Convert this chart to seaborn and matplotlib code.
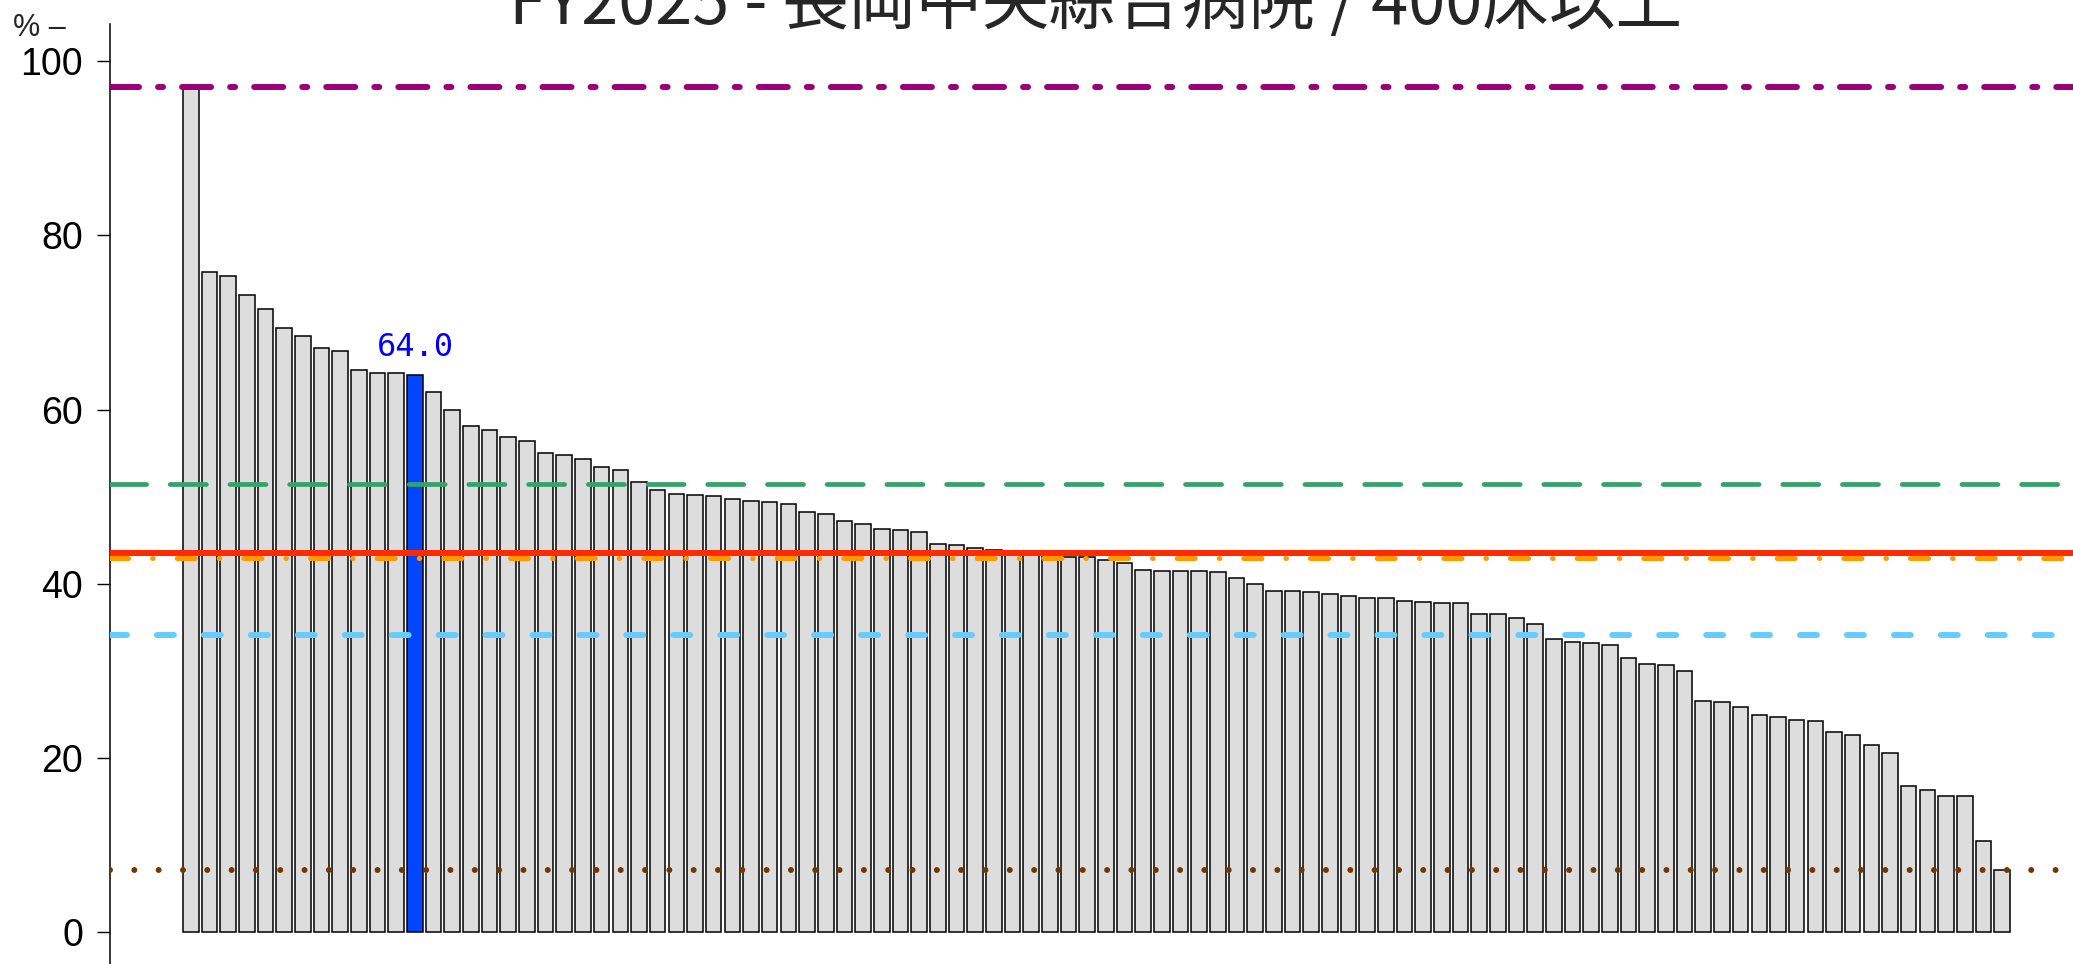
import matplotlib
matplotlib.use("Agg")
import matplotlib.pyplot as plt
import numpy as np
import pandas as pd
import seaborn as sns

# values of all hospitals, sorted (%)
values = [97.1, 75.8, 75.4, 73.2, 71.6, 69.4, 68.5, 67.1, 66.7, 64.5,
          64.2, 64.2, 64.0, 62.0, 59.9, 58.1, 57.7, 56.9, 56.4, 55.0,
          54.8, 54.3, 53.4, 53.1, 51.7, 50.8, 50.3, 50.2, 50.1, 49.7,
          49.5, 49.4, 49.2, 48.2, 48.0, 47.2, 46.8, 46.3, 46.2, 45.9,
          44.6, 44.4, 44.1, 43.9, 43.7, 43.6, 43.4, 43.1, 43.0, 42.7,
          42.4, 41.6, 41.5, 41.5, 41.4, 41.3, 40.6, 40.0, 39.2, 39.1,
          39.0, 38.8, 38.6, 38.4, 38.3, 38.0, 37.9, 37.8, 37.8, 36.5,
          36.5, 36.0, 35.3, 33.6, 33.3, 33.2, 32.9, 31.4, 30.8, 30.7,
          30.0, 26.5, 26.4, 25.8, 24.9, 24.7, 24.3, 24.2, 23.0, 22.6,
          21.4, 20.5, 16.7, 16.3, 15.6, 15.6, 10.4, 7.1]
highlight_rank = 13          # 1-based position of this hospital
highlight_label = "64.0"

# reference lines: max, 75%, median, mean, 25%, min
ref_values = [97.1, 51.5, 42.9, 43.5, 34.1, 7.1]
ref_colors = ["#9B0078", "#35A26B", "#FF9900", "#FF2A00", "#66CCFF", "#6E3800"]
ref_widths = [4.3, 3.4, 3.6, 4.3, 4.3, 4.3]
# dash patterns in points (not scaled by line width)
ref_dashes = [(20.9, 13.7, 3.6, 13.7), (26, 17), (13, 17.3, 0.4, 17.3),
              None, (12.2, 21.6), (0.01, 17.5)]

yticks = [0, 20, 40, 60, 80, 100]
title = "FY2025 - 長岡中央綜合病院 / 400床以上"

sns.set_style("white")
plt.rcParams["font.family"] = ["Liberation Sans", "Noto Sans CJK JP"]
plt.rcParams["lines.scale_dashes"] = False

df = pd.DataFrame({"pos": np.arange(len(values)), "val": values})
bar_colors = ["#DDDDDD"] * len(values)
bar_colors[highlight_rank - 1] = "#0046FF"

fig = plt.figure(figsize=(20.73, 9.64), dpi=100)
ax = fig.add_axes([110 / 2073, 0.0, 1 - 110 / 2073, 1 - 24 / 964])

sns.barplot(data=df, x="pos", y="val", hue="pos", palette=bar_colors, legend=False,
            width=0.836, saturation=1, edgecolor="black", linewidth=1.1, ax=ax)

for v, c, w, d in zip(ref_values, ref_colors, ref_widths, ref_dashes):
    if d is None:
        ax.axhline(v, color=c, lw=w, zorder=5)
    else:
        ax.axhline(v, color=c, lw=w, zorder=5, dashes=d, dash_capstyle="round")

k = highlight_rank - 1
ax.text(k, values[k] + 1.4, highlight_label, color="#0000FF", ha="center", va="bottom",
        fontsize=23, family="DejaVu Sans Mono", zorder=6)

ax.set_xlim(-4.33, 100.8)
ax.set_ylim(-3.71, 104.3)
ax.set_yticks(yticks)
ax.set_xticks([])
ax.set_xlabel("")
ax.set_ylabel("")
ax.tick_params(axis="y", left=True, length=9.4, width=1.0, pad=10, labelsize=27,
               color="black", labelcolor="black")
for s in ["top", "right", "bottom"]:
    ax.spines[s].set_visible(False)
ax.spines["left"].set_linewidth(1.1)
ax.spines["left"].set_color("black")

fig.text(1096 / 2073, 1 - 24 / 964, title, ha="center", va="baseline",
         fontsize=48, family="Noto Sans CJK JP")
fig.text(13 / 2073, 1 - 28 / 964, "% –", ha="left", va="center", fontsize=22)

fig.savefig("out.png", dpi=100)
